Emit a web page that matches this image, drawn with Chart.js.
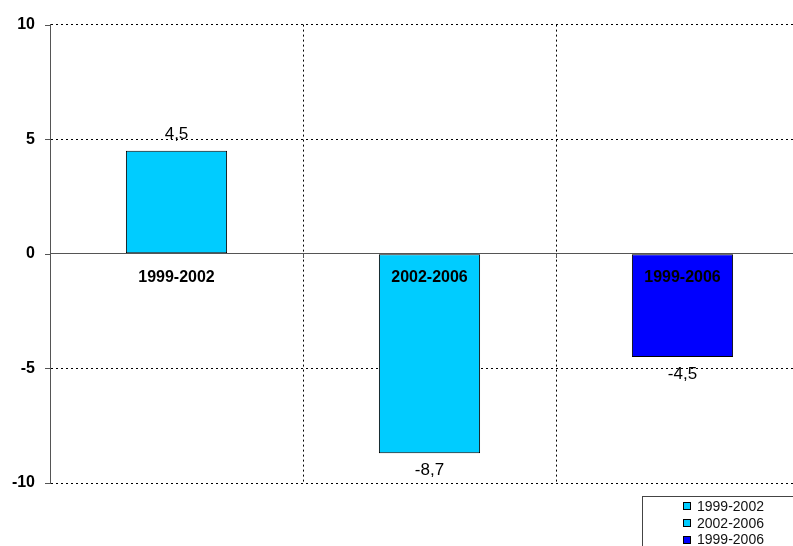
<!DOCTYPE html>
<html><head><meta charset="utf-8">
<script src="https://cdn.jsdelivr.net/npm/chart.js@4"></script>
<style>html,body{margin:0;padding:0;overflow:hidden;background:#fff}#wrap{width:820px;height:546px}</style>
</head><body><div id="wrap"><canvas id="c" width="820" height="546"></canvas></div>
<script>
const categories = ['1999-2002', '2002-2006', '1999-2006'];
const values = [4.5, -8.7, -4.5];
const barColors = ['#00CCFF', '#00CCFF', '#0000FF'];
const legendLabels = ['1999-2002', '2002-2006', '1999-2006'];
const legendColors = ['#00CCFF', '#00CCFF', '#0000FF'];
const yMin = -10, yMax = 10, yStep = 5;

const FONT = '"Liberation Sans", Arial, sans-serif';

const fmt = v => v.toFixed(1).replace('.', ',');

const decorPlugin = {
  id: 'decor',
  beforeDatasetsDraw(chart) {
    // y-axis tick marks
    const ctx = chart.ctx, y = chart.scales.y, left = chart.chartArea.left;
    ctx.save();
    ctx.strokeStyle = '#555';
    ctx.lineWidth = 1;
    y.ticks.forEach(t => {
      const py = Math.round(y.getPixelForValue(t.value)) + 0.5;
      ctx.beginPath(); ctx.moveTo(left - 5, py); ctx.lineTo(left, py); ctx.stroke();
    });
    ctx.restore();
  },
  afterDatasetsDraw(chart) {
    const ctx = chart.ctx;
    const meta = chart.getDatasetMeta(0);
    ctx.save();
    ctx.fillStyle = '#000';
    ctx.font = '17px ' + FONT;
    ctx.textAlign = 'center';
    ctx.textBaseline = 'alphabetic';
    meta.data.forEach((bar, i) => {
      const v = values[i];
      const ty = v >= 0 ? bar.y - 12 : bar.y + 22;
      ctx.fillText(fmt(v), bar.x, ty);
    });
    ctx.restore();
  },
  afterDraw(chart) {
    const ctx = chart.ctx;
    ctx.save();
    ctx.strokeStyle = '#444';
    ctx.lineWidth = 1;
    ctx.strokeRect(642.5, 496.5, 300, 100);
    ctx.font = '14px ' + FONT;
    ctx.textBaseline = 'middle';
    ctx.textAlign = 'left';
    const cys = [506, 523, 539.5];
    legendLabels.forEach((lab, i) => {
      const cy = cys[i];
      ctx.fillStyle = legendColors[i];
      ctx.fillRect(683, Math.round(cy - 4), 8, 8);
      ctx.strokeStyle = '#000';
      ctx.strokeRect(683.5, Math.round(cy - 4) + 0.5, 7, 7);
      ctx.fillStyle = '#111';
      ctx.fillText(lab, 697, cy + 1);
    });
    ctx.restore();
  }
};

new Chart(document.getElementById('c'), {
  type: 'bar',
  data: {
    labels: categories,
    datasets: [{
      data: values,
      backgroundColor: barColors,
      borderColor: '#000',
      borderWidth: 1,
      borderSkipped: false,
      barPercentage: 0.4,
      categoryPercentage: 1.0
    }]
  },
  options: {
    responsive: false,
    animation: false,
    devicePixelRatio: 1,
    layout: { padding: { top: 23, bottom: 63, left: 0, right: 11 } },
    plugins: { legend: { display: false }, tooltip: { enabled: false } },
    scales: {
      x: {
        position: { y: 0 },
        offset: true,
        grid: {
          offset: true,
          color: c => c.index === 0 ? 'rgba(0,0,0,0)' : '#000',
          lineWidth: 1,
          drawTicks: true,
          tickLength: 4,
          tickColor: '#555'
        },
        border: { display: true, color: '#555', width: 1, dash: [2, 3], z: 1 },
        ticks: {
          z: 1,
          autoSkip: false,
          color: '#000',
          font: { family: FONT, size: 16, weight: 'bold' },
          padding: 10,
          maxRotation: 0
        }
      },
      y: {
        min: yMin,
        max: yMax,
        afterFit: s => { s.width = 50; },
        grid: {
          color: c => c.tick && c.tick.value === 0 ? 'rgba(0,0,0,0)' : '#000',
          lineWidth: 1,
          drawTicks: false
        },
        border: { display: true, color: '#555', width: 1, dash: [2, 3] },
        ticks: {
          stepSize: yStep,
          color: '#000',
          font: { family: FONT, size: 16, weight: 'bold' },
          padding: 15
        }
      }
    }
  },
  plugins: [decorPlugin]
});
</script></body></html>
